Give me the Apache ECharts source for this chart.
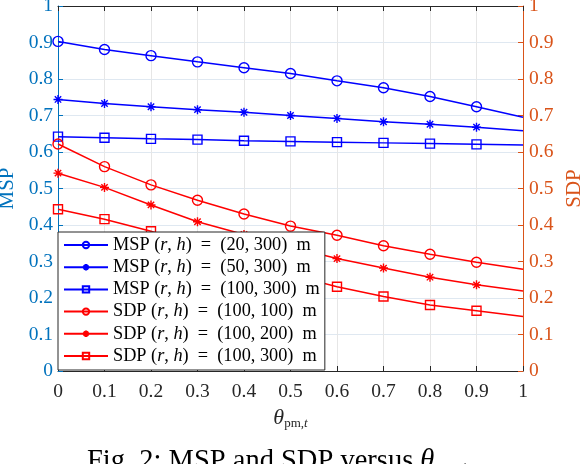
<!DOCTYPE html>
<html>
<head>
<meta charset="utf-8">
<script src="https://cdn.jsdelivr.net/npm/echarts@6/dist/echarts.min.js"></script>
<style>
html,body{margin:0;padding:0;background:#fff;}
#chart{width:582px;height:464px;}
</style>
</head>
<body>
<div id="chart"></div>
<script>
// ---- data ----
const thetaValues = [0, 0.1, 0.2, 0.3, 0.4, 0.5, 0.6, 0.7, 0.8, 0.9, 1.0];
const yTickLabels = ['0','0.1','0.2','0.3','0.4','0.5','0.6','0.7','0.8','0.9','1'];
const xTickLabels = ['0','0.1','0.2','0.3','0.4','0.5','0.6','0.7','0.8','0.9','1'];

const mspR20H300  = [0.903, 0.881, 0.864, 0.847, 0.831, 0.815, 0.795, 0.776, 0.752, 0.724, 0.695];
const mspR50H300  = [0.744, 0.733, 0.724, 0.716, 0.709, 0.700, 0.692, 0.683, 0.676, 0.668, 0.658];
const mspR100H300 = [0.642, 0.639, 0.636, 0.634, 0.631, 0.629, 0.627, 0.625, 0.623, 0.621, 0.619];
const sdpR100H100 = [0.622, 0.560, 0.510, 0.468, 0.430, 0.397, 0.372, 0.343, 0.320, 0.298, 0.279];
const sdpR100H200 = [0.542, 0.503, 0.455, 0.409, 0.374, 0.340, 0.308, 0.282, 0.257, 0.236, 0.219];
const sdpR100H300 = [0.443, 0.416, 0.383, 0.342, 0.302, 0.264, 0.231, 0.204, 0.181, 0.165, 0.149];

const seriesKinds  = ['MSP', 'MSP', 'MSP', 'SDP', 'SDP', 'SDP'];
const seriesPairs  = ['20, 300', '50, 300', '100, 300', '100, 100', '100, 200', '100, 300'];
const seriesData   = [mspR20H300, mspR50H300, mspR100H300, sdpR100H100, sdpR100H200, sdpR100H300];
const seriesMarker = ['circle', 'star', 'square', 'circle', 'star', 'square'];

// ---- styles ----
const BLUE_AX = '#0072BD';
const ORANGE_AX = '#D95319';
const FONT = 'Liberation Serif';
const STAR = 'path://M0,-10L0,10M-10,0L10,0M-7.07,-7.07L7.07,7.07M-7.07,7.07L7.07,-7.07';
const SQUARE = 'path://M-10,-10L10,-10L10,10L-10,10Z';

function markerDef(kind) {
  if (kind === 'circle') return { symbol: 'circle', size: 10 };
  if (kind === 'star') return { symbol: STAR, size: 9 };
  return { symbol: SQUARE, size: 9 };
}

const names = seriesKinds.map((k, i) => k + ' (r,h) = (' + seriesPairs[i] + ') m');

const series = seriesData.map((vals, i) => {
  const color = seriesKinds[i] === 'MSP' ? '#0000FF' : '#FF0000';
  const m = markerDef(seriesMarker[i]);
  return {
    name: names[i],
    type: 'line',
    yAxisIndex: seriesKinds[i] === 'MSP' ? 0 : 1,
    symbol: m.symbol,
    symbolSize: m.size,
    showAllSymbol: true,
    clip: false,
    animation: false,
    lineStyle: { color: color, width: 1.5 },
    itemStyle: { color: 'rgba(0,0,0,0)', borderColor: color, borderWidth: 1.4 },
    emphasis: { disabled: true },
    data: vals.map((v, j) => j === vals.length - 1
      ? { value: [thetaValues[j], v], symbol: 'none' }
      : [thetaValues[j], v])
  };
});

const chart = echarts.init(document.getElementById('chart'), null, { renderer: 'canvas' });

const option = {
  backgroundColor: '#fff',
  animation: false,
  grid: { left: 58, right: 59, top: 6, bottom: 93, containLabel: false, outerBoundsMode: 'none' },
  legend: {
    orient: 'vertical',
    left: 58, top: 232,
    padding: [3, 5, 4, 5],
    itemGap: 2.2,
    itemWidth: 44,
    itemHeight: 8,
    backgroundColor: '#fff',
    borderColor: '#262626',
    borderWidth: 1,
    borderRadius: 0,
    selectedMode: false,
    data: names,
    formatter: function (name) {
      const i = names.indexOf(name);
      return seriesKinds[i] + ' ({i|r}, {i|h})  =  (' + seriesPairs[i] + ')  m';
    },
    textStyle: {
      fontFamily: FONT, fontSize: 18.3, color: '#000', lineHeight: 20, padding: [0, 0, 0, 0],
      rich: { i: { fontFamily: FONT, fontSize: 18.3, fontStyle: 'italic', color: '#000', lineHeight: 20 } }
    }
  },
  xAxis: [{
    type: 'value', min: 0, max: 1, interval: 0.1, position: 'bottom',
    name: '{t|θ}{s|pm,}{si|t}',
    nameLocation: 'middle', nameGap: 34,
    nameTextStyle: {
      rich: {
        t: { fontFamily: FONT, fontStyle: 'italic', fontSize: 22, color: '#262626' },
        s: { fontFamily: FONT, fontSize: 13, color: '#262626', verticalAlign: 'bottom', padding: [12, 0, 0, 0] },
        si: { fontFamily: FONT, fontStyle: 'italic', fontSize: 13, color: '#262626', verticalAlign: 'bottom', padding: [12, 0, 0, 0] }
      }
    },
    axisLine: { show: true, onZero: false, lineStyle: { color: '#262626', width: 1 } },
    axisTick: { show: true, inside: true, length: 5, lineStyle: { color: '#262626' } },
    axisLabel: {
      margin: 11, fontFamily: FONT, fontSize: 19.5, color: '#262626',
      formatter: v => xTickLabels[Math.round(v * 10)]
    },
    splitLine: { show: true, lineStyle: { color: '#e6e6e6', width: 1 } }
  }, {
    type: 'value', min: 0, max: 1, interval: 0.1, position: 'top',
    axisLine: { show: true, onZero: false, lineStyle: { color: '#262626', width: 1 } },
    axisTick: { show: true, inside: true, length: 5, lineStyle: { color: '#262626' } },
    axisLabel: { show: false },
    splitLine: { show: false }
  }],
  yAxis: [{
    type: 'value', min: 0, max: 1, interval: 0.1, position: 'left',
    name: 'MSP', nameLocation: 'middle', nameGap: 37, nameRotate: 90,
    nameTextStyle: { fontFamily: FONT, fontSize: 21, color: BLUE_AX },
    axisLine: { show: true, onZero: false, lineStyle: { color: BLUE_AX, width: 1 } },
    axisTick: { show: true, inside: true, length: 5, lineStyle: { color: BLUE_AX } },
    axisLabel: {
      margin: 5, fontFamily: FONT, fontSize: 19.5, color: BLUE_AX,
      formatter: v => yTickLabels[Math.round(v * 10)]
    },
    splitLine: { show: true, lineStyle: { color: '#dfe8f1', width: 1 } }
  }, {
    type: 'value', min: 0, max: 1, interval: 0.1, position: 'right',
    name: 'SDP', nameLocation: 'middle', nameGap: 30, nameRotate: 90,
    nameTextStyle: { fontFamily: FONT, fontSize: 21, color: ORANGE_AX },
    axisLine: { show: true, onZero: false, lineStyle: { color: ORANGE_AX, width: 1 } },
    axisTick: { show: true, inside: true, length: 5, lineStyle: { color: ORANGE_AX } },
    axisLabel: {
      margin: 6, fontFamily: FONT, fontSize: 19.5, color: ORANGE_AX,
      formatter: v => yTickLabels[Math.round(v * 10)]
    },
    splitLine: { show: false }
  }],
  graphic: [{
    type: 'text',
    left: 87, top: 447,
    style: {
      text: 'Fig. 2: MSP and SDP versus {t|θ}{s|pm,}{si|t}',
      fontFamily: FONT, fontSize: 28.5, fill: '#000',
      rich: {
        t: { fontFamily: FONT, fontStyle: 'italic', fontSize: 28.5, fill: '#000' },
        s: { fontFamily: FONT, fontSize: 18, fill: '#000', padding: [16, 0, 0, 0] },
        si: { fontFamily: FONT, fontStyle: 'italic', fontSize: 18, fill: '#000', padding: [16, 0, 0, 0] }
      }
    }
  }],
  series: series
};

chart.setOption(option);
</script>
</body>
</html>
